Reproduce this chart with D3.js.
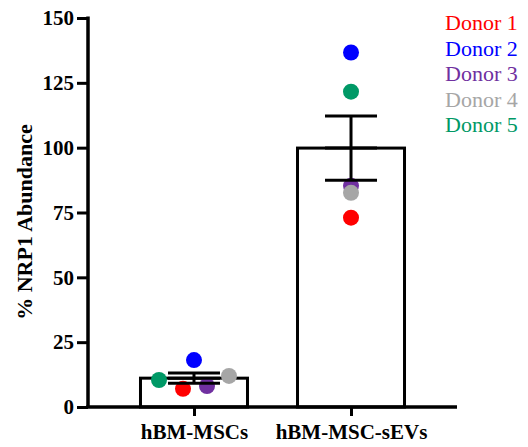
<!DOCTYPE html>
<html><head><meta charset="utf-8">
<script src="https://cdn.jsdelivr.net/npm/d3@7"></script>
<style>body{margin:0;background:#fff}svg{display:block}
text{font-family:"Liberation Serif","Times New Roman",Times,serif}</style>
</head><body>
<script>
const categories = ["hBM-MSCs", "hBM-MSC-sEVs"];
const donors = ["Donor 1", "Donor 2", "Donor 3", "Donor 4", "Donor 5"];
const donorColors = ["#ff0000", "#0000ff", "#7030a0", "#a6a6a6", "#009966"];
const valuesMSC = [7.0, 18.1, 8.1, 12.0, 10.4];
const valuesEV = [73.0, 136.7, 85.3, 82.6, 121.6];
const yTicks = [0, 25, 50, 75, 100, 125, 150];
// horizontal scatter offsets (px) for each donor dot, per group
const jitterMSC = [-11, 0, 13, 35, -35];
const jitterEV = [0, 0, 0, 0, 0];

const W = 528, H = 447;
const svg = d3.select("body").append("svg").attr("width", W).attr("height", H);
const y = d3.scaleLinear().domain([0, 150]).range([407, 18]);
const x = d3.scalePoint().domain(categories).range([88, 457]).padding(0.675);
const barW = 107;

const groups = [
  {cat: categories[0], vals: valuesMSC, jit: jitterMSC},
  {cat: categories[1], vals: valuesEV, jit: jitterEV}
];
groups.forEach(g => {
  g.mean = d3.mean(g.vals);
  g.sem = d3.deviation(g.vals) / Math.sqrt(g.vals.length);
});

const serif = '"Liberation Serif","Times New Roman",Times,serif';

// bars
svg.selectAll("rect.bar").data(groups).join("rect")
  .attr("x", d => x(d.cat) - barW / 2)
  .attr("y", d => y(d.mean))
  .attr("width", barW)
  .attr("height", d => y(0) - y(d.mean))
  .attr("fill", "none").attr("stroke", "#000").attr("stroke-width", 3);

// points
groups.forEach(g => {
  svg.selectAll(null).data(g.vals).join("circle")
    .attr("cx", (v, i) => x(g.cat) + g.jit[i])
    .attr("cy", v => y(v))
    .attr("r", 8)
    .attr("fill", (v, i) => donorColors[i]);
});

// error bars
const capW = 52;
groups.forEach(g => {
  const cx = x(g.cat);
  const e = svg.append("g").attr("stroke", "#000").attr("stroke-width", 3);
  e.append("line").attr("x1", cx).attr("x2", cx).attr("y1", y(g.mean + g.sem)).attr("y2", y(g.mean - g.sem));
  e.append("line").attr("x1", cx - capW / 2).attr("x2", cx + capW / 2).attr("y1", y(g.mean + g.sem)).attr("y2", y(g.mean + g.sem));
  e.append("line").attr("x1", cx - capW / 2).attr("x2", cx + capW / 2).attr("y1", y(g.mean - g.sem)).attr("y2", y(g.mean - g.sem));
  e.append("line").attr("x1", cx - capW / 2).attr("x2", cx + capW / 2).attr("y1", y(g.mean)).attr("y2", y(g.mean));
});

// y axis
const yAxis = svg.append("g").attr("transform", "translate(88,0)")
  .call(d3.axisLeft(y).tickValues(yTicks).tickSize(11).tickSizeOuter(0).tickPadding(3));
yAxis.attr("font-family", null);
yAxis.select(".domain").attr("stroke-width", 3.5).attr("d", `M0,${y(150) - 1.5}V${y(0)}`);
yAxis.selectAll(".tick line").attr("stroke-width", 3);
yAxis.selectAll("text").style("font-family", serif).style("font-weight", "bold")
  .style("font-size", "21px").attr("fill", "#000");

// x axis
const xAxis = svg.append("g").attr("transform", `translate(0,${y(0)})`)
  .call(d3.axisBottom(x).tickSize(9).tickSizeOuter(0).tickPadding(8));
xAxis.attr("font-family", null);
xAxis.select(".domain").attr("stroke-width", 3.5).attr("d", "M86.25,0H457");
xAxis.selectAll(".tick line").attr("stroke-width", 3);
xAxis.selectAll("text").style("font-family", serif).style("font-weight", "bold")
  .style("font-size", "21px").attr("fill", "#000");

// y title
svg.append("text")
  .attr("transform", "translate(32,222) rotate(-90)")
  .attr("text-anchor", "middle")
  .style("font-family", serif).style("font-weight", "bold").style("font-size", "22px")
  .text("% NRP1 Abundance");

// legend
svg.selectAll("text.leg").data(donors).join("text")
  .attr("class", "leg")
  .attr("x", 445).attr("y", (d, i) => 30 + i * 25.5)
  .style("font-family", serif).style("font-size", "22px")
  .attr("fill", (d, i) => donorColors[i])
  .text(d => d);
</script>
</body></html>
